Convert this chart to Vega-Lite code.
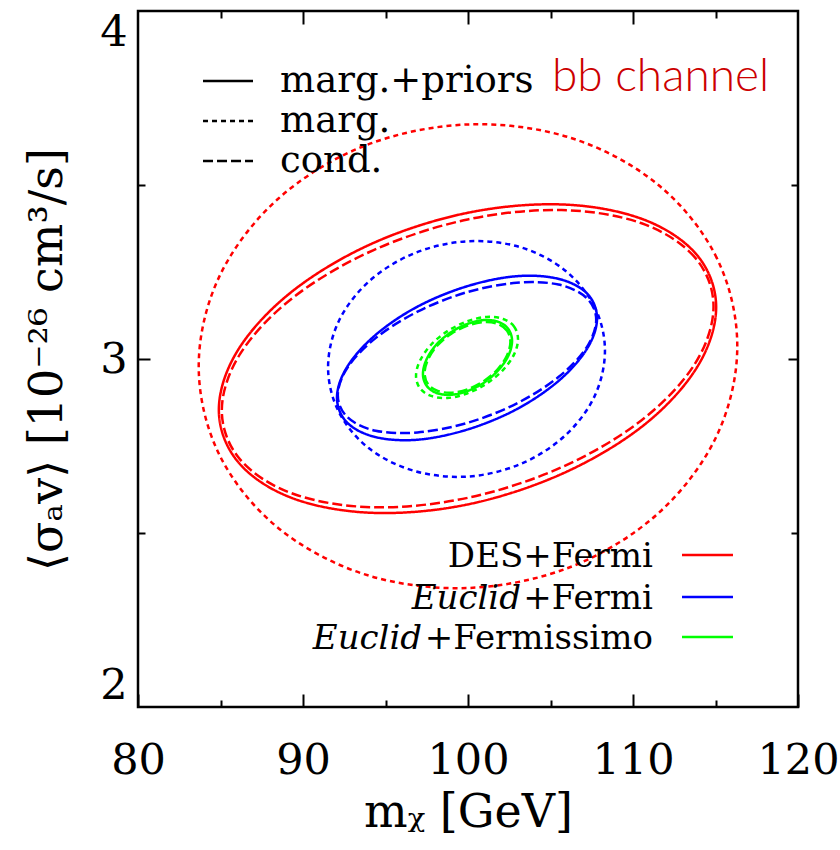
{
  "$schema": "https://vega.github.io/schema/vega-lite/v6.json",
  "width": 660,
  "height": 696,
  "autosize": {"type": "none"},
  "padding": {"left": 138, "top": 11, "right": 42, "bottom": 143},
  "background": "white",
  "config": {
    "view": {"stroke": "black", "strokeWidth": 2.5},
    "font": "DejaVu Serif"
  },
  "datasets": {
    "curves": [
      {"model":"DES+Fermi","kind":"marg.+priors","i":0,"m":115.04,"sv":3.149},
      {"model":"DES+Fermi","kind":"marg.+priors","i":1,"m":113.89,"sv":3.298},
      {"model":"DES+Fermi","kind":"marg.+priors","i":2,"m":110.63,"sv":3.401},
      {"model":"DES+Fermi","kind":"marg.+priors","i":3,"m":105.74,"sv":3.444},
      {"model":"DES+Fermi","kind":"marg.+priors","i":4,"m":99.97,"sv":3.420},
      {"model":"DES+Fermi","kind":"marg.+priors","i":5,"m":94.20,"sv":3.332},
      {"model":"DES+Fermi","kind":"marg.+priors","i":6,"m":89.31,"sv":3.193},
      {"model":"DES+Fermi","kind":"marg.+priors","i":7,"m":86.05,"sv":3.025},
      {"model":"DES+Fermi","kind":"marg.+priors","i":8,"m":84.90,"sv":2.854},
      {"model":"DES+Fermi","kind":"marg.+priors","i":9,"m":86.05,"sv":2.705},
      {"model":"DES+Fermi","kind":"marg.+priors","i":10,"m":89.31,"sv":2.601},
      {"model":"DES+Fermi","kind":"marg.+priors","i":11,"m":94.20,"sv":2.558},
      {"model":"DES+Fermi","kind":"marg.+priors","i":12,"m":99.97,"sv":2.582},
      {"model":"DES+Fermi","kind":"marg.+priors","i":13,"m":105.74,"sv":2.671},
      {"model":"DES+Fermi","kind":"marg.+priors","i":14,"m":110.63,"sv":2.809},
      {"model":"DES+Fermi","kind":"marg.+priors","i":15,"m":113.89,"sv":2.977},

      {"model":"DES+Fermi","kind":"cond.","i":0,"m":114.88,"sv":3.151},
      {"model":"DES+Fermi","kind":"cond.","i":1,"m":113.75,"sv":3.292},
      {"model":"DES+Fermi","kind":"cond.","i":2,"m":110.52,"sv":3.390},
      {"model":"DES+Fermi","kind":"cond.","i":3,"m":105.68,"sv":3.428},
      {"model":"DES+Fermi","kind":"cond.","i":4,"m":99.98,"sv":3.401},
      {"model":"DES+Fermi","kind":"cond.","i":5,"m":94.28,"sv":3.313},
      {"model":"DES+Fermi","kind":"cond.","i":6,"m":89.44,"sv":3.178},
      {"model":"DES+Fermi","kind":"cond.","i":7,"m":86.21,"sv":3.016},
      {"model":"DES+Fermi","kind":"cond.","i":8,"m":85.08,"sv":2.852},
      {"model":"DES+Fermi","kind":"cond.","i":9,"m":86.21,"sv":2.710},
      {"model":"DES+Fermi","kind":"cond.","i":10,"m":89.44,"sv":2.612},
      {"model":"DES+Fermi","kind":"cond.","i":11,"m":94.28,"sv":2.574},
      {"model":"DES+Fermi","kind":"cond.","i":12,"m":99.98,"sv":2.601},
      {"model":"DES+Fermi","kind":"cond.","i":13,"m":105.68,"sv":2.689},
      {"model":"DES+Fermi","kind":"cond.","i":14,"m":110.52,"sv":2.824},
      {"model":"DES+Fermi","kind":"cond.","i":15,"m":113.75,"sv":2.986},

      {"model":"DES+Fermi","kind":"marg.","i":0,"m":116.32,"sv":3.037},
      {"model":"DES+Fermi","kind":"marg.","i":1,"m":115.08,"sv":3.290},
      {"model":"DES+Fermi","kind":"marg.","i":2,"m":111.54,"sv":3.500},
      {"model":"DES+Fermi","kind":"marg.","i":3,"m":106.25,"sv":3.635},
      {"model":"DES+Fermi","kind":"marg.","i":4,"m":100.0,"sv":3.674},
      {"model":"DES+Fermi","kind":"marg.","i":5,"m":93.75,"sv":3.613},
      {"model":"DES+Fermi","kind":"marg.","i":6,"m":88.46,"sv":3.459},
      {"model":"DES+Fermi","kind":"marg.","i":7,"m":84.92,"sv":3.236},
      {"model":"DES+Fermi","kind":"marg.","i":8,"m":83.68,"sv":2.979},
      {"model":"DES+Fermi","kind":"marg.","i":9,"m":84.92,"sv":2.726},
      {"model":"DES+Fermi","kind":"marg.","i":10,"m":88.46,"sv":2.516},
      {"model":"DES+Fermi","kind":"marg.","i":11,"m":93.75,"sv":2.381},
      {"model":"DES+Fermi","kind":"marg.","i":12,"m":100.0,"sv":2.342},
      {"model":"DES+Fermi","kind":"marg.","i":13,"m":106.25,"sv":2.403},
      {"model":"DES+Fermi","kind":"marg.","i":14,"m":111.54,"sv":2.557},
      {"model":"DES+Fermi","kind":"marg.","i":15,"m":115.08,"sv":2.780},

      {"model":"Euclid+Fermi","kind":"marg.+priors","i":0,"m":107.82,"sv":3.117},
      {"model":"Euclid+Fermi","kind":"marg.+priors","i":1,"m":107.22,"sv":3.188},
      {"model":"Euclid+Fermi","kind":"marg.+priors","i":2,"m":105.51,"sv":3.230},
      {"model":"Euclid+Fermi","kind":"marg.+priors","i":3,"m":102.96,"sv":3.238},
      {"model":"Euclid+Fermi","kind":"marg.+priors","i":4,"m":99.94,"sv":3.209},
      {"model":"Euclid+Fermi","kind":"marg.+priors","i":5,"m":96.92,"sv":3.150},
      {"model":"Euclid+Fermi","kind":"marg.+priors","i":6,"m":94.37,"sv":3.068},
      {"model":"Euclid+Fermi","kind":"marg.+priors","i":7,"m":92.66,"sv":2.976},
      {"model":"Euclid+Fermi","kind":"marg.+priors","i":8,"m":92.06,"sv":2.889},
      {"model":"Euclid+Fermi","kind":"marg.+priors","i":9,"m":92.66,"sv":2.818},
      {"model":"Euclid+Fermi","kind":"marg.+priors","i":10,"m":94.37,"sv":2.776},
      {"model":"Euclid+Fermi","kind":"marg.+priors","i":11,"m":96.92,"sv":2.768},
      {"model":"Euclid+Fermi","kind":"marg.+priors","i":12,"m":99.94,"sv":2.797},
      {"model":"Euclid+Fermi","kind":"marg.+priors","i":13,"m":102.96,"sv":2.856},
      {"model":"Euclid+Fermi","kind":"marg.+priors","i":14,"m":105.51,"sv":2.938},
      {"model":"Euclid+Fermi","kind":"marg.+priors","i":15,"m":107.22,"sv":3.030},

      {"model":"Euclid+Fermi","kind":"cond.","i":0,"m":107.77,"sv":3.113},
      {"model":"Euclid+Fermi","kind":"cond.","i":1,"m":107.17,"sv":3.176},
      {"model":"Euclid+Fermi","kind":"cond.","i":2,"m":105.48,"sv":3.214},
      {"model":"Euclid+Fermi","kind":"cond.","i":3,"m":102.94,"sv":3.219},
      {"model":"Euclid+Fermi","kind":"cond.","i":4,"m":99.94,"sv":3.192},
      {"model":"Euclid+Fermi","kind":"cond.","i":5,"m":96.94,"sv":3.136},
      {"model":"Euclid+Fermi","kind":"cond.","i":6,"m":94.40,"sv":3.060},
      {"model":"Euclid+Fermi","kind":"cond.","i":7,"m":92.71,"sv":2.976},
      {"model":"Euclid+Fermi","kind":"cond.","i":8,"m":92.11,"sv":2.896},
      {"model":"Euclid+Fermi","kind":"cond.","i":9,"m":92.71,"sv":2.832},
      {"model":"Euclid+Fermi","kind":"cond.","i":10,"m":94.40,"sv":2.794},
      {"model":"Euclid+Fermi","kind":"cond.","i":11,"m":96.94,"sv":2.789},
      {"model":"Euclid+Fermi","kind":"cond.","i":12,"m":99.94,"sv":2.816},
      {"model":"Euclid+Fermi","kind":"cond.","i":13,"m":102.94,"sv":2.872},
      {"model":"Euclid+Fermi","kind":"cond.","i":14,"m":105.48,"sv":2.948},
      {"model":"Euclid+Fermi","kind":"cond.","i":15,"m":107.17,"sv":3.032},

      {"model":"Euclid+Fermi","kind":"marg.","i":0,"m":108.30,"sv":3.024},
      {"model":"Euclid+Fermi","kind":"marg.","i":1,"m":107.66,"sv":3.151},
      {"model":"Euclid+Fermi","kind":"marg.","i":2,"m":105.84,"sv":3.256},
      {"model":"Euclid+Fermi","kind":"marg.","i":3,"m":103.12,"sv":3.322},
      {"model":"Euclid+Fermi","kind":"marg.","i":4,"m":99.91,"sv":3.338},
      {"model":"Euclid+Fermi","kind":"marg.","i":5,"m":96.70,"sv":3.303},
      {"model":"Euclid+Fermi","kind":"marg.","i":6,"m":93.98,"sv":3.222},
      {"model":"Euclid+Fermi","kind":"marg.","i":7,"m":92.16,"sv":3.108},
      {"model":"Euclid+Fermi","kind":"marg.","i":8,"m":91.52,"sv":2.976},
      {"model":"Euclid+Fermi","kind":"marg.","i":9,"m":92.16,"sv":2.849},
      {"model":"Euclid+Fermi","kind":"marg.","i":10,"m":93.98,"sv":2.744},
      {"model":"Euclid+Fermi","kind":"marg.","i":11,"m":96.70,"sv":2.679},
      {"model":"Euclid+Fermi","kind":"marg.","i":12,"m":99.91,"sv":2.662},
      {"model":"Euclid+Fermi","kind":"marg.","i":13,"m":103.12,"sv":2.697},
      {"model":"Euclid+Fermi","kind":"marg.","i":14,"m":105.84,"sv":2.778},
      {"model":"Euclid+Fermi","kind":"marg.","i":15,"m":107.66,"sv":2.892},

      {"model":"Euclid+Fermissimo","kind":"marg.+priors","i":0,"m":102.67,"sv":3.052},
      {"model":"Euclid+Fermissimo","kind":"marg.+priors","i":1,"m":102.46,"sv":3.085},
      {"model":"Euclid+Fermissimo","kind":"marg.+priors","i":2,"m":101.88,"sv":3.106},
      {"model":"Euclid+Fermissimo","kind":"marg.+priors","i":3,"m":101.00,"sv":3.112},
      {"model":"Euclid+Fermissimo","kind":"marg.+priors","i":4,"m":99.97,"sv":3.101},
      {"model":"Euclid+Fermissimo","kind":"marg.+priors","i":5,"m":98.94,"sv":3.076},
      {"model":"Euclid+Fermissimo","kind":"marg.+priors","i":6,"m":98.06,"sv":3.040},
      {"model":"Euclid+Fermissimo","kind":"marg.+priors","i":7,"m":97.48,"sv":2.998},
      {"model":"Euclid+Fermissimo","kind":"marg.+priors","i":8,"m":97.27,"sv":2.957},
      {"model":"Euclid+Fermissimo","kind":"marg.+priors","i":9,"m":97.48,"sv":2.924},
      {"model":"Euclid+Fermissimo","kind":"marg.+priors","i":10,"m":98.06,"sv":2.903},
      {"model":"Euclid+Fermissimo","kind":"marg.+priors","i":11,"m":98.94,"sv":2.897},
      {"model":"Euclid+Fermissimo","kind":"marg.+priors","i":12,"m":99.97,"sv":2.908},
      {"model":"Euclid+Fermissimo","kind":"marg.+priors","i":13,"m":101.00,"sv":2.933},
      {"model":"Euclid+Fermissimo","kind":"marg.+priors","i":14,"m":101.88,"sv":2.970},
      {"model":"Euclid+Fermissimo","kind":"marg.+priors","i":15,"m":102.46,"sv":3.011},

      {"model":"Euclid+Fermissimo","kind":"cond.","i":0,"m":102.57,"sv":3.049},
      {"model":"Euclid+Fermissimo","kind":"cond.","i":1,"m":102.37,"sv":3.081},
      {"model":"Euclid+Fermissimo","kind":"cond.","i":2,"m":101.81,"sv":3.101},
      {"model":"Euclid+Fermissimo","kind":"cond.","i":3,"m":100.97,"sv":3.106},
      {"model":"Euclid+Fermissimo","kind":"cond.","i":4,"m":99.97,"sv":3.096},
      {"model":"Euclid+Fermissimo","kind":"cond.","i":5,"m":98.97,"sv":3.072},
      {"model":"Euclid+Fermissimo","kind":"cond.","i":6,"m":98.13,"sv":3.038},
      {"model":"Euclid+Fermissimo","kind":"cond.","i":7,"m":97.57,"sv":2.998},
      {"model":"Euclid+Fermissimo","kind":"cond.","i":8,"m":97.37,"sv":2.960},
      {"model":"Euclid+Fermissimo","kind":"cond.","i":9,"m":97.57,"sv":2.928},
      {"model":"Euclid+Fermissimo","kind":"cond.","i":10,"m":98.13,"sv":2.909},
      {"model":"Euclid+Fermissimo","kind":"cond.","i":11,"m":98.97,"sv":2.903},
      {"model":"Euclid+Fermissimo","kind":"cond.","i":12,"m":99.97,"sv":2.913},
      {"model":"Euclid+Fermissimo","kind":"cond.","i":13,"m":100.97,"sv":2.937},
      {"model":"Euclid+Fermissimo","kind":"cond.","i":14,"m":101.81,"sv":2.971},
      {"model":"Euclid+Fermissimo","kind":"cond.","i":15,"m":102.37,"sv":3.011},

      {"model":"Euclid+Fermissimo","kind":"marg.","i":0,"m":103.03,"sv":3.057},
      {"model":"Euclid+Fermissimo","kind":"marg.","i":1,"m":102.80,"sv":3.093},
      {"model":"Euclid+Fermissimo","kind":"marg.","i":2,"m":102.13,"sv":3.115},
      {"model":"Euclid+Fermissimo","kind":"marg.","i":3,"m":101.12,"sv":3.121},
      {"model":"Euclid+Fermissimo","kind":"marg.","i":4,"m":99.94,"sv":3.108},
      {"model":"Euclid+Fermissimo","kind":"marg.","i":5,"m":98.76,"sv":3.080},
      {"model":"Euclid+Fermissimo","kind":"marg.","i":6,"m":97.76,"sv":3.041},
      {"model":"Euclid+Fermissimo","kind":"marg.","i":7,"m":97.09,"sv":2.995},
      {"model":"Euclid+Fermissimo","kind":"marg.","i":8,"m":96.85,"sv":2.952},
      {"model":"Euclid+Fermissimo","kind":"marg.","i":9,"m":97.09,"sv":2.916},
      {"model":"Euclid+Fermissimo","kind":"marg.","i":10,"m":97.76,"sv":2.894},
      {"model":"Euclid+Fermissimo","kind":"marg.","i":11,"m":98.76,"sv":2.888},
      {"model":"Euclid+Fermissimo","kind":"marg.","i":12,"m":99.94,"sv":2.901},
      {"model":"Euclid+Fermissimo","kind":"marg.","i":13,"m":101.12,"sv":2.929},
      {"model":"Euclid+Fermissimo","kind":"marg.","i":14,"m":102.13,"sv":2.969},
      {"model":"Euclid+Fermissimo","kind":"marg.","i":15,"m":102.80,"sv":3.014}
    ]
  },
  "resolve": {"axis": {"x": "independent", "y": "independent"}},
  "layer": [
    {
      "data": {"name": "curves"},
      "mark": {"type": "line", "interpolate": "cardinal-closed", "strokeWidth": 2.5},
      "encoding": {
        "x": {"field": "m", "type": "quantitative",
              "scale": {"domain": [80, 120], "nice": false, "zero": false},
              "axis": {"orient": "bottom", "values": [80, 90, 100, 110, 120], "format": "d", "ticks": false, "domain": false, "grid": false,
                       "labelFont": "DejaVu Serif", "labelFontSize": 43, "labelColor": "black", "labelPadding": 32,
                       "labelFlush": false, "labelOverlap": false,
                       "title": "mᵪ [GeV]", "titleFont": "DejaVu Serif", "titleFontSize": 46, "titleFontWeight": "normal",
                       "titleColor": "black", "titlePadding": 8}},
        "y": {"field": "sv", "type": "quantitative",
              "scale": {"domain": [2, 4], "nice": false, "zero": false},
              "axis": {"orient": "left", "values": [2, 3, 4], "format": ".0f", "ticks": false, "domain": false, "grid": false,
                       "labelFont": "DejaVu Serif", "labelFontSize": 43, "labelColor": "black", "labelPadding": 11,
                       "labelFlush": true, "labelOverlap": false, "labelBound": false,
                       "title": "⟨σₐv⟩ [10⁻²⁶ cm³/s]", "titleFont": "DejaVu Serif", "titleFontSize": 46, "titleFontWeight": "normal",
                       "titleColor": "black", "titlePadding": 28}},
        "color": {"field": "model", "type": "nominal", "legend": null,
                  "scale": {"domain": ["DES+Fermi", "Euclid+Fermi", "Euclid+Fermissimo"], "range": ["#ff0000", "#0000ff", "#00ff00"]}},
        "strokeDash": {"field": "kind", "type": "nominal", "legend": null,
                       "scale": {"domain": ["marg.+priors", "marg.", "cond."], "range": [[1, 0], [5, 4], [10, 4]]}},
        "order": {"field": "i", "type": "quantitative"}
      }
    },
    {
      "data": {"values": [{}]},
      "mark": {"type": "rule", "color": "black", "strokeWidth": 2.5},
      "encoding": {
        "x": {"datum": 83.94, "type": "quantitative",
              "axis": {"orient": "bottom", "values": [80, 90, 100, 110, 120], "tickSize": -13, "tickWidth": 2, "tickColor": "black",
                       "labels": false, "domain": false, "grid": false, "title": null}},
        "x2": {"datum": 86.97},
        "y": {"datum": 3.799, "type": "quantitative",
              "axis": {"orient": "left", "values": [3], "tickSize": -12, "tickWidth": 2, "tickColor": "black",
                       "labels": false, "domain": false, "grid": false, "title": null}}
      }
    },
    {
      "data": {"values": [{}]},
      "mark": {"type": "rule", "color": "black", "strokeWidth": 2.5, "strokeDash": [5, 4]},
      "encoding": {
        "x": {"datum": 83.94, "type": "quantitative",
              "axis": {"orient": "bottom", "values": [85, 95, 105, 115], "tickSize": -7, "tickWidth": 2, "tickColor": "black",
                       "labels": false, "domain": false, "grid": false, "title": null}},
        "x2": {"datum": 86.97},
        "y": {"datum": 3.684, "type": "quantitative",
              "axis": {"orient": "left", "values": [2.5, 3.5], "tickSize": -7, "tickWidth": 2, "tickColor": "black",
                       "labels": false, "domain": false, "grid": false, "title": null}}
      }
    },
    {
      "data": {"values": [{}]},
      "mark": {"type": "rule", "color": "black", "strokeWidth": 2.5, "strokeDash": [10, 4]},
      "encoding": {
        "x": {"datum": 83.94, "type": "quantitative",
              "axis": {"orient": "top", "values": [90, 100, 110], "tickSize": -13, "tickWidth": 2, "tickColor": "black",
                       "labels": false, "domain": false, "grid": false, "title": null}},
        "x2": {"datum": 86.97},
        "y": {"datum": 3.569, "type": "quantitative",
              "axis": {"orient": "right", "values": [3], "tickSize": -10, "tickWidth": 2, "tickColor": "black",
                       "labels": false, "domain": false, "grid": false, "title": null}}
      }
    },
    {
      "data": {"values": [{}]},
      "mark": {"type": "rule", "color": "#ff0000", "strokeWidth": 2.5},
      "encoding": {
        "x": {"datum": 112.97, "type": "quantitative",
              "axis": {"orient": "top", "values": [85, 95, 105, 115], "tickSize": -7, "tickWidth": 2, "tickColor": "black",
                       "labels": false, "domain": false, "grid": false, "title": null}},
        "x2": {"datum": 116.06},
        "y": {"datum": 2.437, "type": "quantitative",
              "axis": {"orient": "right", "values": [2.5, 3.5], "tickSize": -7, "tickWidth": 2, "tickColor": "black",
                       "labels": false, "domain": false, "grid": false, "title": null}}
      }
    },
    {
      "data": {"values": [{}]},
      "mark": {"type": "rule", "color": "#0000ff", "strokeWidth": 2.5},
      "encoding": {
        "x": {"datum": 112.97, "type": "quantitative", "axis": null},
        "x2": {"datum": 116.06},
        "y": {"datum": 2.316, "type": "quantitative", "axis": null}
      }
    },
    {
      "data": {"values": [{}]},
      "mark": {"type": "rule", "color": "#00ff00", "strokeWidth": 2.5},
      "encoding": {
        "x": {"datum": 112.97, "type": "quantitative", "axis": null},
        "x2": {"datum": 116.06},
        "y": {"datum": 2.201, "type": "quantitative", "axis": null}
      }
    },
    {
      "data": {"values": [{"label": "marg.+priors", "yv": 3.767}, {"label": "marg.", "yv": 3.652}, {"label": "cond.", "yv": 3.537}]},
      "mark": {"type": "text", "align": "left", "baseline": "alphabetic", "font": "DejaVu Serif", "fontSize": 37, "color": "black"},
      "encoding": {
        "x": {"datum": 88.61, "type": "quantitative", "axis": null},
        "y": {"field": "yv", "type": "quantitative", "axis": null},
        "text": {"field": "label"}
      }
    },
    {
      "data": {"values": [{"label": "bb channel"}]},
      "mark": {"type": "text", "align": "left", "baseline": "alphabetic", "font": "Lato", "fontSize": 46, "fontWeight": 300, "color": "#cc0000"},
      "encoding": {
        "x": {"datum": 105.09, "type": "quantitative", "axis": null},
        "y": {"datum": 3.770, "type": "quantitative", "axis": null},
        "text": {"field": "label"}
      }
    },
    {
      "data": {"values": [{"label": "DES+Fermi", "yv": 2.402}, {"label": "+Fermi", "yv": 2.282}, {"label": "+Fermissimo", "yv": 2.167}]},
      "mark": {"type": "text", "align": "right", "baseline": "alphabetic", "font": "DejaVu Serif", "fontSize": 34, "color": "black"},
      "encoding": {
        "x": {"datum": 111.21, "type": "quantitative", "axis": null},
        "y": {"field": "yv", "type": "quantitative", "axis": null},
        "text": {"field": "label"}
      }
    },
    {
      "data": {"values": [{"label": "Euclid", "xv": 103.21, "yv": 2.282}, {"label": "Euclid", "xv": 97.22, "yv": 2.167}]},
      "mark": {"type": "text", "align": "right", "baseline": "alphabetic", "font": "DejaVu Serif", "fontSize": 34, "fontStyle": "italic", "color": "black"},
      "encoding": {
        "x": {"field": "xv", "type": "quantitative", "axis": null},
        "y": {"field": "yv", "type": "quantitative", "axis": null},
        "text": {"field": "label"}
      }
    }
  ]
}
